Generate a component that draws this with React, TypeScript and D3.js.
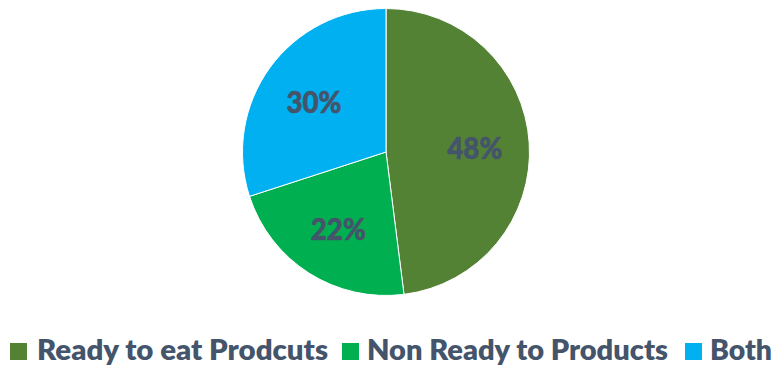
import React from "react";
import * as d3 from "d3";

const categories = ["Ready to eat Prodcuts", "Non Ready to Products", "Both"];
const values = [48, 22, 30];
const colors = ["#548235", "#00B050", "#00B0F0"];

const W = 774;
const H = 367;
const cx = 386;
const cy = 152;
const R = 143.5;
const labelR = 89;
const textColor = "#44546A";
const font = "Lato, 'Open Sans', sans-serif";

// legend layout: swatch x, text x, text width
const legendItems = [
  { sx: 10, tx: 37, tw: 291 },
  { sx: 342, tx: 367, tw: 301 },
  { sx: 685, tx: 710, tw: 62 },
];
const labelWidth = 55;

export default function App() {
  const pie = d3.pie<number>().sort(null).value((d) => d);
  const arcs = pie(values);
  const arc = d3.arc<d3.PieArcDatum<number>>().innerRadius(0).outerRadius(R);
  const labelArc = d3
    .arc<d3.PieArcDatum<number>>()
    .innerRadius(labelR)
    .outerRadius(labelR);

  return (
    <svg
      width={W}
      height={H}
      style={{ position: "absolute", left: 0, top: 0, background: "#fff" }}
    >
      <g transform={`translate(${cx},${cy})`}>
        {arcs.map((a, i) => (
          <path key={i} d={arc(a) || ""} fill={colors[i]} stroke="#fff" strokeWidth={1} />
        ))}
        {arcs.map((a, i) => {
          const [x, y] = labelArc.centroid(a);
          return (
            <text
              key={"l" + i}
              x={x - labelWidth / 2}
              y={y + 13}
              fontFamily={font}
              fontWeight={900}
              fontSize={30}
              fill={textColor}
              stroke={textColor}
              strokeWidth={0.6}
              textLength={labelWidth}
              lengthAdjust="spacingAndGlyphs"
            >
              {`${values[i]}%`}
            </text>
          );
        })}
      </g>
      <g>
        {categories.map((c, i) => (
          <g key={c}>
            <rect x={legendItems[i].sx} y={343} width={17} height={17} fill={colors[i]} />
            <text
              x={legendItems[i].tx}
              y={360}
              fontFamily={font}
              fontWeight={800}
              fontSize={27.5}
              fill={textColor}
              textLength={legendItems[i].tw}
              lengthAdjust="spacingAndGlyphs"
            >
              {c}
            </text>
          </g>
        ))}
      </g>
    </svg>
  );
}
